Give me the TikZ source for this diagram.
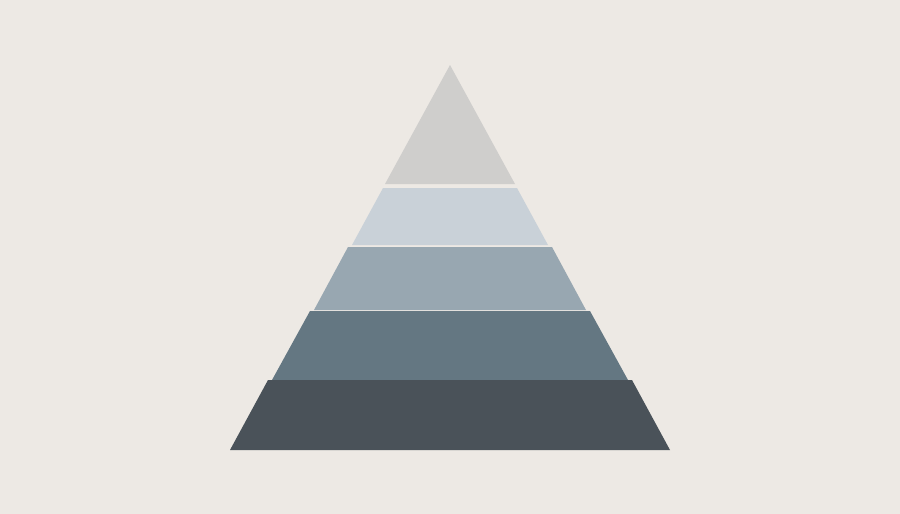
\documentclass[tikz,border=0pt]{standalone}
\usepackage{xcolor}
\usepackage{tikz}
\definecolor{paper}{HTML}{EDE9E4}
\definecolor{tierA}{HTML}{CFCECC}
\definecolor{tierB}{HTML}{C9D1D8}
\definecolor{tierC}{HTML}{98A7B1}
\definecolor{tierD}{HTML}{647782}
\definecolor{tierE}{HTML}{4A5259}
\tikzset{
    tier/.style = {draw=none},
    tier_a/.style = {tier, fill=tierA},
    tier_b/.style = {tier, fill=tierB},
    tier_c/.style = {tier, fill=tierC},
    tier_d/.style = {tier, fill=tierD},
    tier_e/.style = {tier, fill=tierE}
}
\begin{document}
\begin{tikzpicture}
            [x=0.02cm, y=-0.02cm]

            \fill[paper] (0,0) rectangle (900,514);
            \useasboundingbox (0,0) rectangle (900,514);

            \fill[tier_a] (450,65) -- (515,184) -- (385,184) -- cycle;
            \fill[tier_b] (383,188) -- (517,188) -- (548,245) -- (352,245) -- cycle;
            \fill[tier_c] (348,247) -- (552,247) -- (586,310) -- (314,310) -- cycle;
            \fill[tier_d] (310,311) -- (590,311) -- (628,380) -- (272,380) -- cycle;
            \fill[tier_e] (268,380) -- (632,380) -- (670,450) -- (230,450) -- cycle;
        \end{tikzpicture}
\end{document}
